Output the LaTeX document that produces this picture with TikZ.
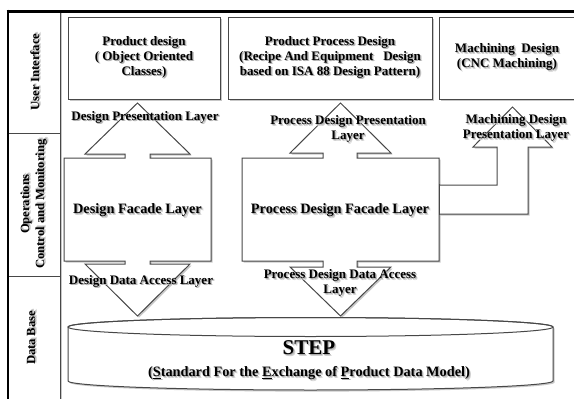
\documentclass[tikz,border=0pt]{standalone}
\usepackage{fontspec}
\setmainfont{Liberation Serif}
\usetikzlibrary{shadows}

\tikzset{
  ln/.style={draw=black!72, line width=1pt, line join=miter},
  shd/.style={drop shadow={shadow xshift=1.6pt, shadow yshift=-1.6pt, fill=black, opacity=0.22}},
  panel/.style={ln, fill=white, shd},
  lbl/.style={font=\bfseries\fontsize{13}{15}\selectfont, inner sep=0pt},
  big/.style={font=\bfseries\fontsize{14.3}{16}\selectfont},
  side/.style={font=\bfseries\fontsize{12.5}{15}\selectfont, rotate=90},
}

% centred lines of text with a soft grey shadow below right
\newcommand\linesof[1]{\begin{tabular}{@{}c@{}}#1\end{tabular}}
\newcommand\shadowed[1]{%
  \rlap{\hspace{1.8pt}\raisebox{-1.8pt}{\color{black!18}\linesof{#1}}}%
  \rlap{\hspace{1pt}\raisebox{-1pt}{\color{black!32}\linesof{#1}}}%
  \linesof{#1}}
\newcommand\shlabel[4][]{\node[lbl,#1] (#2) at (#3) {\shadowed{#4}};}

\begin{document}
\begin{tikzpicture}[x=1pt,y=-1pt]
\useasboundingbox (0,0) rectangle (574,399);
\clip (0,0) rectangle (574,399);

% side column
\path[panel] (8,11) rectangle (60,133);
\path[panel] (8,133) rectangle (60,276);
\path[panel] (8,276) rectangle (60,405);

% top boxes
\path[panel] (68,17) rectangle (220,99);
\path[panel] (228,17) rectangle (432,99);
\path[panel] (439,17) rectangle (578,99);

% design facade with presentation and data access arrows
\path[panel] (64,158) -- (125,158) -- (125,154) -- (85,154) -- (137.5,103)
  -- (190,154) -- (150,154) -- (150,158) -- (211,158) -- (211,261)
  -- (150,261) -- (150,264) -- (190,264) -- (137.5,316) -- (85,264)
  -- (125,264) -- (125,261) -- (64,261) -- cycle;

% process design facade with its arrows
\path[panel] (242,158) -- (323,158) -- (323,153) -- (290,153) -- (340.5,103)
  -- (391,153) -- (357,153) -- (357,158) -- (439,158) -- (439,261)
  -- (357,261) -- (357,267) -- (391,267) -- (340.5,316) -- (290,267)
  -- (323,267) -- (323,261) -- (242,261) -- cycle;

% machining presentation arrow branching off the process facade
\path[ln, fill=white, shd] (439,185) -- (497,185) -- (497,147) -- (473,147)
  -- (512.5,107) -- (552,147) -- (528,147) -- (528,214) -- (439,214);
\draw[ln] (439,184) -- (439,215);

% STEP data store
\path[panel] (68,327) -- (68,381) arc[start angle=180, end angle=0, x radius=242.5, y radius=9]
  -- (553,327) arc[start angle=0, end angle=-180, x radius=242.5, y radius=9.5] -- cycle;
\draw[ln] (310.5,327) ellipse[x radius=242.5, y radius=9.5];

% frame
\draw[line width=3pt] (6.5,11) -- (576,11);
\draw[line width=2.6pt] (8,9.5) -- (8,401);

% side labels
\shlabel[side]{ui}{37,72}{User Interface}
\shlabel[side]{ocm}{34.5,204}{Operations\\Control and Monitoring}
\shlabel[side]{db}{33,338}{Data Base}

% box texts
\shlabel{pd}{144,58}{Product design\\( Object Oriented\\Classes)}
\shlabel{ppd}{330,58}{Product Process Design\\(Recipe And Equipment\ \ \ Design\\based on ISA 88 Design Pattern)}
\shlabel{md}{507,58}{Machining\ \ Design\\(CNC Machining)}

% layer texts
\shlabel{dpl}{145,118}{Design Presentation Layer}
\shlabel{pdpl}{348,130}{Process Design Presentation\\Layer}
\shlabel{mdpl}{516,129}{Machining Design\\Presentation Layer}
\shlabel[big]{dfl}{137.5,211}{Design Facade Layer}
\shlabel[big]{pdfl}{340,211}{Process Design Facade Layer}
\shlabel{ddal}{141,282}{Design Data Access Layer}
\shlabel{pddal}{340,284}{Process Design Data Access\\Layer}

% STEP texts
\shlabel[font=\bfseries\fontsize{21}{24}\selectfont]{step}{309,351}{STEP}
\shlabel[big]{stepfull}{309,374}{(\underline{S}tandard For the \underline{E}xchange of \underline{P}roduct Data Model)}
\end{tikzpicture}
\end{document}
